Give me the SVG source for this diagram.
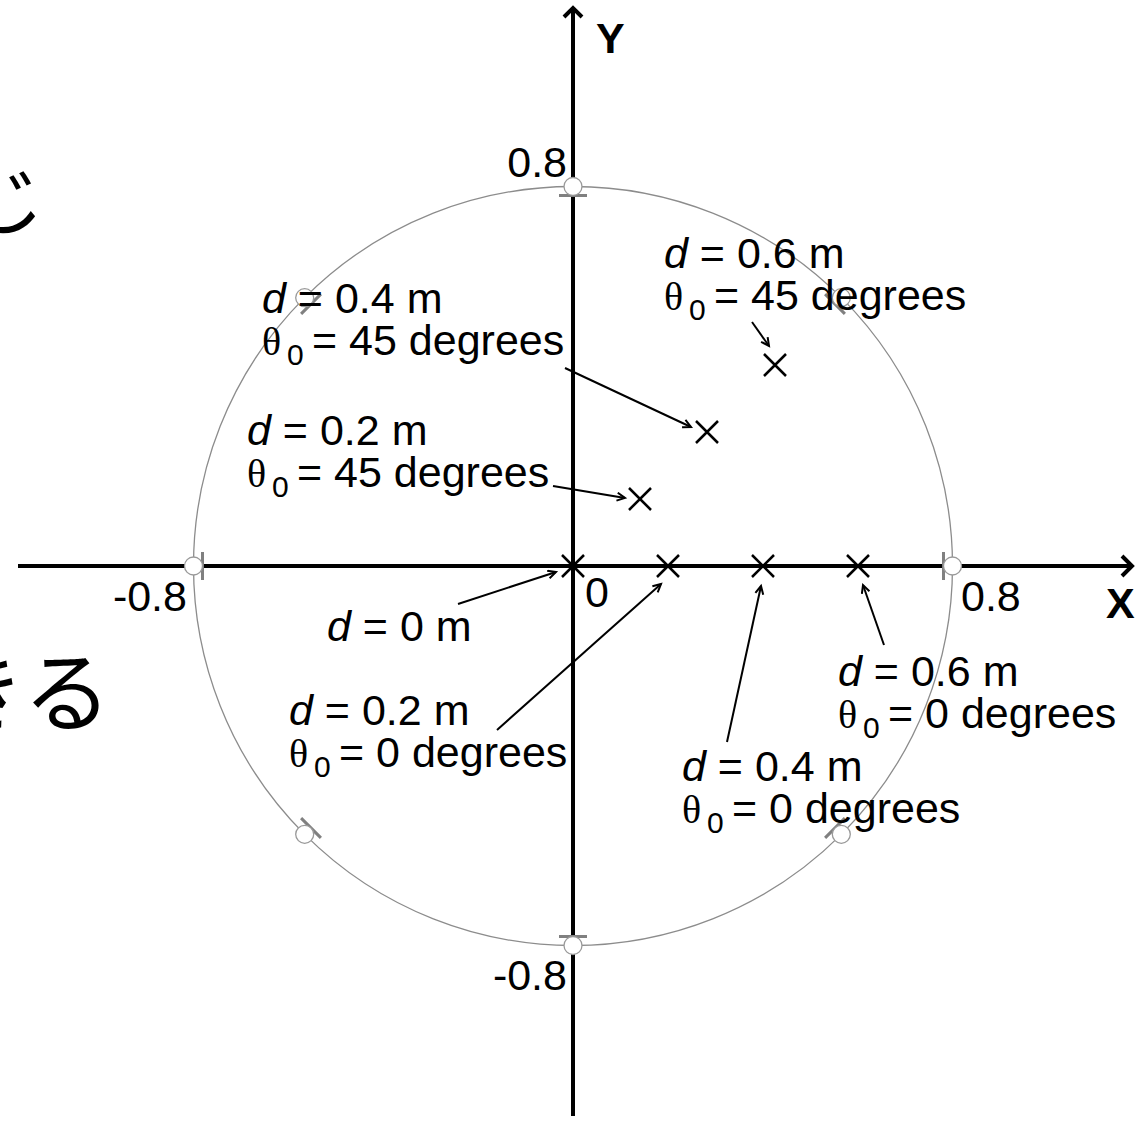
<svg xmlns="http://www.w3.org/2000/svg" width="1136" height="1121" viewBox="0 0 1136 1121">
<style>
text{font-family:"Liberation Sans",Arial,sans-serif;font-size:43px;fill:#000}
.it{font-style:italic}
.th{font-family:"Liberation Serif","Times New Roman",serif;font-size:40px}
.sub{font-size:30px}
.bold{font-weight:bold}
.jp{font-family:"Noto Sans CJK JP",sans-serif;font-size:88px}
.jp1{font-size:77px}
.axis{stroke:#000;stroke-width:4;fill:none}
.tick{stroke:#808080;stroke-width:3}
.mk{fill:#fff;stroke:#999;stroke-width:1.3}
.cross{stroke:#000;stroke-width:2.5}
.ptr{stroke:#000;stroke-width:2;fill:none;marker-end:url(#ah)}
</style>
<defs>
<marker id="ah" markerUnits="userSpaceOnUse" markerWidth="12" markerHeight="12" refX="9" refY="5" orient="auto">
<path d="M1,1 L9,5 L1,9" fill="none" stroke="#000" stroke-width="2"/>
</marker>
</defs>
<rect width="1136" height="1121" fill="#fff"/>
<g id="japanese-text">
<text class="jp jp1" x="-33" y="229">じ</text>
<text class="jp" x="-63" y="724">きる</text>
</g>
<g id="circle">
<circle cx="573" cy="566" r="379.5" fill="none" stroke="#8c8c8c" stroke-width="1.3"/>
</g>
<g id="axes">
<line class="axis" x1="18" y1="566" x2="1131" y2="566"/>
<polyline class="axis" points="1122,556 1132,566 1122,576"/>
<line class="axis" x1="573" y1="1116" x2="573" y2="8"/>
<polyline class="axis" points="564,17 573,8 582,17"/>
</g>
<g id="ticks">
<line class="tick" x1="559" y1="195.5" x2="587" y2="195.5"/>
<line class="tick" x1="559" y1="936.5" x2="587" y2="936.5"/>
<line class="tick" x1="202.5" y1="552" x2="202.5" y2="580"/>
<line class="tick" x1="943.5" y1="552" x2="943.5" y2="580"/>
<line class="tick" x1="301.1" y1="313.9" x2="320.9" y2="294.1"/>
<line class="tick" x1="825.1" y1="294.1" x2="844.9" y2="313.9"/>
<line class="tick" x1="301.1" y1="818.1" x2="320.9" y2="837.9"/>
<line class="tick" x1="825.1" y1="837.9" x2="844.9" y2="818.1"/>
</g>
<g id="markers">
<circle class="mk" cx="573" cy="186.5" r="9"/>
<circle class="mk" cx="573" cy="945.5" r="9"/>
<circle class="mk" cx="193.5" cy="566" r="9"/>
<circle class="mk" cx="952.5" cy="566" r="9"/>
<circle class="mk" cx="304.7" cy="297.7" r="9"/>
<circle class="mk" cx="841.3" cy="297.7" r="9"/>
<circle class="mk" cx="304.7" cy="834.3" r="9"/>
<circle class="mk" cx="841.3" cy="834.3" r="9"/>
</g>
<g id="points">
<path class="cross" d="M562,555 L584,577 M584,555 L562,577"/>
<path class="cross" d="M657,555 L679,577 M679,555 L657,577"/>
<path class="cross" d="M752,555 L774,577 M774,555 L752,577"/>
<path class="cross" d="M847,555 L869,577 M869,555 L847,577"/>
<path class="cross" d="M629,488 L651,510 M651,488 L629,510"/>
<path class="cross" d="M696,421 L718,443 M718,421 L696,443"/>
<path class="cross" d="M764,354 L786,376 M786,354 L764,376"/>
</g>
<g id="axis-labels">
<text x="567" y="177" text-anchor="end">0.8</text>
<text x="567" y="990" text-anchor="end">-0.8</text>
<text x="187" y="611" text-anchor="end">-0.8</text>
<text x="961" y="611">0.8</text>
<text x="585" y="607">0</text>
<text class="bold" x="596" y="53">Y</text>
<text class="bold" x="1106" y="618">X</text>
</g>
<g id="connectors">
<line class="ptr" x1="752" y1="322" x2="769" y2="346"/>
<line class="ptr" x1="565" y1="368" x2="691" y2="427"/>
<line class="ptr" x1="553" y1="486" x2="625" y2="498"/>
<line class="ptr" x1="458" y1="604" x2="556" y2="572"/>
<line class="ptr" x1="497" y1="730" x2="661" y2="584"/>
<line class="ptr" x1="727" y1="742" x2="761" y2="586"/>
<line class="ptr" x1="884" y1="645" x2="863" y2="585"/>
</g>
<g id="label-d06-45">
<text x="664" y="268"><tspan class="it">d</tspan> = 0.6 m</text>
<text><tspan class="th" x="664" y="310">θ</tspan><tspan class="sub" x="689" y="320">0</tspan><tspan x="714" y="310">= 45 degrees</tspan></text>
</g>
<g id="label-d04-45">
<text x="262" y="313"><tspan class="it">d</tspan> = 0.4 m</text>
<text><tspan class="th" x="262" y="355">θ</tspan><tspan class="sub" x="287" y="365">0</tspan><tspan x="312" y="355">= 45 degrees</tspan></text>
</g>
<g id="label-d02-45">
<text x="247" y="445"><tspan class="it">d</tspan> = 0.2 m</text>
<text><tspan class="th" x="247" y="487">θ</tspan><tspan class="sub" x="272" y="497">0</tspan><tspan x="297" y="487">= 45 degrees</tspan></text>
</g>
<g id="label-d0">
<text x="327" y="641"><tspan class="it">d</tspan> = 0 m</text>
</g>
<g id="label-d02-0">
<text x="289" y="725"><tspan class="it">d</tspan> = 0.2 m</text>
<text><tspan class="th" x="289" y="767">θ</tspan><tspan class="sub" x="314" y="777">0</tspan><tspan x="339" y="767">= 0 degrees</tspan></text>
</g>
<g id="label-d04-0">
<text x="682" y="781"><tspan class="it">d</tspan> = 0.4 m</text>
<text><tspan class="th" x="682" y="823">θ</tspan><tspan class="sub" x="707" y="833">0</tspan><tspan x="732" y="823">= 0 degrees</tspan></text>
</g>
<g id="label-d06-0">
<text x="838" y="686"><tspan class="it">d</tspan> = 0.6 m</text>
<text><tspan class="th" x="838" y="728">θ</tspan><tspan class="sub" x="863" y="738">0</tspan><tspan x="888" y="728">= 0 degrees</tspan></text>
</g>
</svg>
